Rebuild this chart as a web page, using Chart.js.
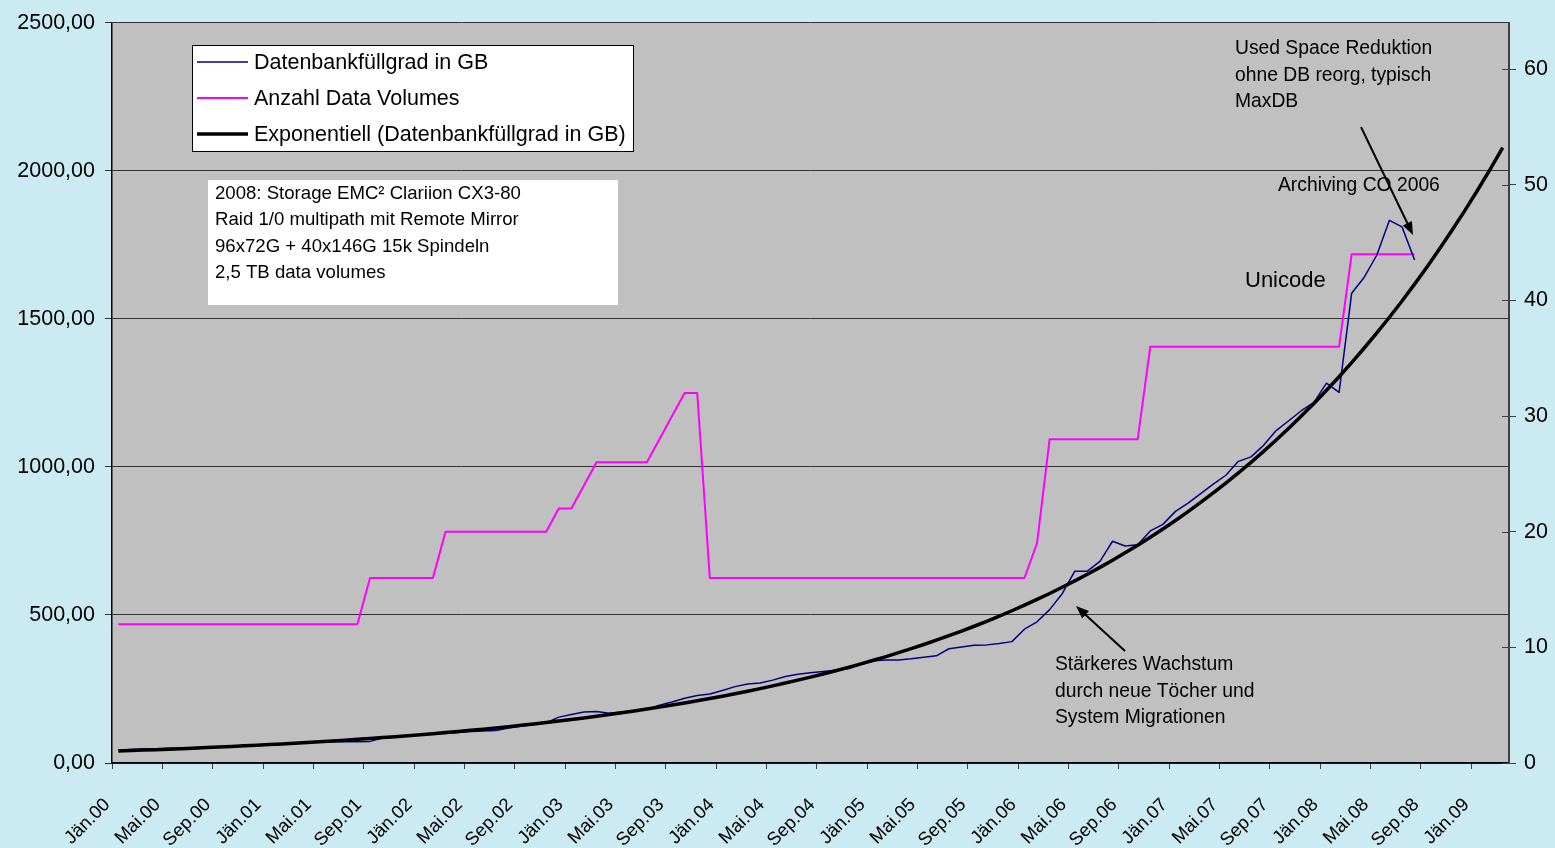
<!DOCTYPE html>
<html>
<head>
<meta charset="utf-8">
<script src="https://cdn.jsdelivr.net/npm/chart.js@4/dist/chart.umd.min.js"></script>
<style>
  body { margin: 0; background: #cbeaf1; }
  canvas { display: block; }
</style>
</head>
<body>
<canvas id="chart" width="1555" height="848"></canvas>
<script>
// Kategorien: Monate Jän.00 .. Mär.09
const monate = ['Jän', 'Feb', 'Mär', 'Apr', 'Mai', 'Jun', 'Jul', 'Aug', 'Sep', 'Okt', 'Nov', 'Dez'];
const jahre = ['00', '01', '02', '03', '04', '05', '06', '07', '08', '09'];
const anzahlMonate = 111;

const labels = [];
for (let i = 0; i < anzahlMonate; i++) {
    labels.push(monate[i % 12] + '.' + jahre[Math.floor(i / 12)]);
}

// Datenbankfüllgrad in GB (Jän.00 .. Aug.08)
const fuellgrad = [
    44, 46, 47, 48, 50, 51, 52, 53, 55, 57,
    59, 61, 63, 65, 67, 69, 71, 72, 72, 72,
    73, 84, 88, 92, 95, 98, 100, 103, 106, 108,
    110, 118, 124, 130, 135, 155, 164, 172, 174, 168,
    172, 176, 182, 195, 206, 219, 228, 233, 245, 258,
    267, 270, 280, 292, 300, 305, 309, 313, 318, 333,
    345, 348, 348, 352, 357, 362, 386, 392, 398, 399,
    404, 410, 452, 477, 518, 572, 648, 648, 681, 749,
    733, 737, 784, 806, 850, 878, 910, 942, 972, 1019,
    1034, 1073, 1123, 1156, 1190, 1218, 1283, 1252, 1587, 1641,
    1716, 1833, 1811, 1699
];

// Anzahl Data Volumes (rechte Achse)
const volumes = [
    12, 12, 12, 12, 12, 12, 12, 12, 12, 12,
    12, 12, 12, 12, 12, 12, 12, 12, 12, 12,
    16, 16, 16, 16, 16, 16, 20, 20, 20, 20,
    20, 20, 20, 20, 20, 22, 22, 24, 26, 26,
    26, 26, 26, 28, 30, 32, 32, 16, 16, 16,
    16, 16, 16, 16, 16, 16, 16, 16, 16, 16,
    16, 16, 16, 16, 16, 16, 16, 16, 16, 16,
    16, 16, 16, 19, 28, 28, 28, 28, 28, 28,
    28, 28, 36, 36, 36, 36, 36, 36, 36, 36,
    36, 36, 36, 36, 36, 36, 36, 36, 44, 44,
    44, 44, 44, 44
];

// Exponentieller Trend (Jän.00 .. Mär.09)
const trend = [
    40.5, 42.0, 43.5, 45.1, 46.7, 48.4, 50.2, 52.0, 53.9, 55.9,
    57.9, 60.0, 62.2, 64.5, 66.8, 69.3, 71.8, 74.4, 77.1, 79.9,
    82.8, 85.8, 89.0, 92.2, 95.6, 99.1, 102.7, 106.4, 110.3, 114.3,
    118.5, 122.8, 127.3, 131.9, 136.7, 141.7, 146.9, 152.3, 157.8, 163.6,
    169.5, 175.7, 182.1, 188.7, 195.6, 202.7, 210.1, 217.8, 225.7, 234.0,
    242.5, 251.3, 260.5, 270.0, 279.8, 290.0, 300.6, 311.6, 322.9, 334.7,
    346.9, 359.5, 372.6, 386.2, 400.3, 414.9, 430.0, 445.7, 461.9, 478.8,
    496.2, 514.3, 533.1, 552.5, 572.6, 593.5, 615.1, 637.6, 660.8, 684.9,
    709.9, 735.8, 762.6, 790.4, 819.2, 849.1, 880.1, 912.2, 945.4, 979.9,
    1015.6, 1052.6, 1091.0, 1130.8, 1172.0, 1214.7, 1259.0, 1304.9, 1352.5, 1401.8,
    1452.9, 1505.8, 1560.7, 1617.6, 1676.5, 1737.6, 1801.0, 1866.6, 1934.6, 2005.2,
    2078.3
];

const schrift = "'Liberation Sans', Arial, sans-serif";

function pfeil(ctx, x1, y1, x2, y2) {
    const a = Math.atan2(y2 - y1, x2 - x1);
    ctx.save();
    ctx.strokeStyle = '#000';
    ctx.fillStyle = '#000';
    ctx.lineWidth = 2;
    ctx.beginPath();
    ctx.moveTo(x1, y1);
    ctx.lineTo(x2 - 8 * Math.cos(a), y2 - 8 * Math.sin(a));
    ctx.stroke();
    ctx.beginPath();
    ctx.moveTo(x2, y2);
    ctx.lineTo(x2 - 13 * Math.cos(a) + 5 * Math.sin(a), y2 - 13 * Math.sin(a) - 5 * Math.cos(a));
    ctx.lineTo(x2 - 13 * Math.cos(a) - 5 * Math.sin(a), y2 - 13 * Math.sin(a) + 5 * Math.cos(a));
    ctx.closePath();
    ctx.fill();
    ctx.restore();
}

const hintergrund = {
    id: 'hintergrund',
    beforeDraw(chart) {
        const { ctx, chartArea: a } = chart;
        ctx.save();
        ctx.fillStyle = '#cbeaf1';
        ctx.fillRect(0, 0, chart.width, chart.height);
        ctx.fillStyle = '#c0c0c0';
        ctx.fillRect(a.left, a.top, a.right - a.left, a.bottom - a.top);
        ctx.restore();
    }
};

const beschriftung = {
    id: 'beschriftung',
    afterDraw(chart) {
        const ctx = chart.ctx;
        const y2 = chart.scales.y2;

        // Teilstriche der rechten Achse nach innen
        ctx.save();
        ctx.strokeStyle = '#404040';
        ctx.lineWidth = 1;
        y2.ticks.forEach(t => {
            const py = Math.round(y2.getPixelForValue(t.value)) + 0.5;
            ctx.beginPath();
            ctx.moveTo(y2.left - 7, py);
            ctx.lineTo(y2.left, py);
            ctx.stroke();
        });
        ctx.restore();

        // Legende
        ctx.save();
        ctx.fillStyle = '#fff';
        ctx.fillRect(192, 45, 441, 106);
        ctx.strokeStyle = '#000';
        ctx.lineWidth = 1;
        ctx.strokeRect(192.5, 45.5, 441, 106);
        ctx.font = '21.5px ' + schrift;
        ctx.textBaseline = 'middle';
        chart.data.datasets.forEach((ds, i) => {
            const ly = 62 + i * 36;
            ctx.strokeStyle = ds.borderColor;
            ctx.lineWidth = ds.borderWidth;
            ctx.beginPath();
            ctx.moveTo(197, ly);
            ctx.lineTo(248, ly);
            ctx.stroke();
            ctx.fillStyle = '#000';
            ctx.fillText(ds.label, 254, ly + 1);
        });

        // Textfeld Storage
        ctx.fillStyle = '#fff';
        ctx.fillRect(208, 180, 410, 125);
        ctx.fillStyle = '#000';
        ctx.font = '18.6px ' + schrift;
        ['2008: Storage EMC² Clariion CX3-80',
         'Raid 1/0 multipath mit Remote Mirror',
         '96x72G + 40x146G 15k Spindeln',
         '2,5 TB data volumes'].forEach((t, i) => ctx.fillText(t, 215, 194 + i * 26.3));

        ctx.font = '19.3px ' + schrift;
        ['Used Space Reduktion', 'ohne DB reorg, typisch', 'MaxDB']
            .forEach((t, i) => ctx.fillText(t, 1235, 49 + i * 26.5));
        ctx.fillText('Archiving CO 2006', 1278, 186);
        ['Stärkeres Wachstum', 'durch neue Töcher und', 'System Migrationen']
            .forEach((t, i) => ctx.fillText(t, 1055, 665 + i * 26.5));
        ctx.font = '22px ' + schrift;
        ctx.fillText('Unicode', 1245, 281);
        ctx.restore();

        pfeil(ctx, 1361, 127, 1413, 235);
        pfeil(ctx, 1125, 651, 1076, 606);
    }
};

new Chart(document.getElementById('chart'), {
    type: 'line',
    data: {
        labels: labels,
        datasets: [{
            label: 'Datenbankfüllgrad in GB',
            data: fuellgrad,
            borderColor: '#000080',
            borderWidth: 1.5,
            yAxisID: 'y',
            order: 1
        }, {
            label: 'Anzahl Data Volumes',
            data: volumes,
            borderColor: '#ff00ff',
            borderWidth: 2,
            yAxisID: 'y2',
            order: 2
        }, {
            label: 'Exponentiell (Datenbankfüllgrad in GB)',
            data: trend,
            borderColor: '#000000',
            borderWidth: 3.5,
            yAxisID: 'y',
            order: 0
        }]
    },
    options: {
        responsive: false,
        animation: false,
        events: [],
        layout: { padding: { top: 18, left: 0, right: 0, bottom: 0 } },
        elements: {
            point: { radius: 0 },
            line: { tension: 0, borderJoinStyle: 'round' }
        },
        plugins: {
            legend: { display: false },
            tooltip: { enabled: false }
        },
        scales: {
            x: {
                type: 'category',
                offset: true,
                afterFit(s) { s.height = 85; },
                border: { color: '#000', width: 1.5 },
                grid: {
                    offset: true,
                    drawOnChartArea: false,
                    tickLength: 6,
                    color: c => (c.index % 4 === 0 ? '#404040' : 'rgba(0,0,0,0)')
                },
                ticks: {
                    autoSkip: false,
                    maxRotation: 45,
                    minRotation: 45,
                    padding: 25,
                    labelOffset: -11,
                    color: '#000',
                    font: { family: schrift, size: 18.5 },
                    callback(v, i) { return i % 4 === 0 ? this.getLabelForValue(v) : ''; }
                }
            },
            y: {
                position: 'left',
                min: 0,
                max: 2500,
                afterFit(s) { s.width = 112; },
                border: { color: '#000', width: 1.5 },
                grid: { color: '#333', tickLength: 7, lineWidth: 1 },
                ticks: {
                    stepSize: 500,
                    padding: 10,
                    color: '#000',
                    font: { family: schrift, size: 21.5 },
                    callback: v => v.toFixed(2).replace('.', ',')
                }
            },
            y2: {
                position: 'right',
                min: 0,
                max: 64,
                afterFit(s) { s.width = 46; },
                afterBuildTicks(s) { s.ticks = s.ticks.filter(t => t.value % 10 === 0); },
                border: { color: '#404040', width: 2 },
                grid: { drawOnChartArea: false, color: '#404040', tickLength: 7 },
                ticks: {
                    stepSize: 10,
                    padding: 8,
                    color: '#000',
                    font: { family: schrift, size: 21.5 }
                }
            }
        }
    },
    plugins: [hintergrund, beschriftung]
});
</script>
</body>
</html>
